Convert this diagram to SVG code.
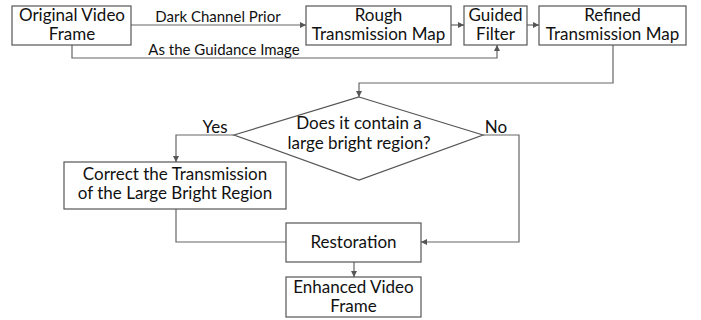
<svg xmlns="http://www.w3.org/2000/svg" width="701" height="320" viewBox="0 0 701 320">
<style>
.box{fill:#fff;stroke:#555;stroke-width:1.2}
.t{font-family:Lato,"Open Sans",sans-serif;font-size:17px;fill:#111;text-anchor:middle}
.l{font-family:Lato,"Open Sans",sans-serif;font-size:15px;fill:#111;text-anchor:middle}
.c{fill:none;stroke:#666;stroke-width:1.2}
</style>
<defs>
<marker id="ah" markerWidth="6" markerHeight="6" refX="6" refY="3" orient="auto" markerUnits="userSpaceOnUse">
<path d="M0,0 L6,3 L0,6 Z" fill="#555"/>
</marker>
</defs>
<rect width="701" height="320" fill="#fff"/>
<g id="connectors">
<path class="c" d="M131,25 H306" marker-end="url(#ah)"/>
<path class="c" d="M451,25 H464" marker-end="url(#ah)"/>
<path class="c" d="M527,25 H539" marker-end="url(#ah)"/>
<path class="c" d="M72,45 V58 H497 V45" marker-end="url(#ah)"/>
<path class="c" d="M613,45 V83 H359 V97" marker-end="url(#ah)"/>
<path class="c" d="M234,135 H176 V162" marker-end="url(#ah)"/>
<path class="c" d="M483,135 H519 V242 H421" marker-end="url(#ah)"/>
<path class="c" d="M176,209 V242 H286"/>
<path class="c" d="M354,262 V277" marker-end="url(#ah)"/>
<text class="l" x="218" y="22">Dark Channel Prior</text>
<text class="l" x="224" y="55">As the Guidance Image</text>
<text class="t" x="215" y="133">Yes</text>
<text class="t" x="496" y="133">No</text>
</g>
<g id="original"><rect class="box" x="12" y="6" width="119" height="39"/><text class="t" x="72" y="21">Original Video</text><text class="t" x="72" y="40">Frame</text></g>
<g id="rough"><rect class="box" x="306" y="6" width="145" height="39"/><text class="t" x="378.5" y="21">Rough</text><text class="t" x="378.5" y="40">Transmission Map</text></g>
<g id="guided"><rect class="box" x="464" y="6" width="63" height="39"/><text class="t" x="495.5" y="21">Guided</text><text class="t" x="495.5" y="40">Filter</text></g>
<g id="refined"><rect class="box" x="539" y="6" width="147" height="39"/><text class="t" x="612.5" y="21">Refined</text><text class="t" x="612.5" y="40">Transmission Map</text></g>
<g id="decision"><path class="box" d="M359,97 L483,135 L359,180 L234,135 Z"/><text class="t" x="359" y="129">Does it contain a</text><text class="t" x="359" y="149">large bright region?</text></g>
<g id="correct"><rect class="box" x="64" y="162" width="222" height="47"/><text class="t" x="175" y="180">Correct the Transmission</text><text class="t" x="175" y="199">of the Large Bright Region</text></g>
<g id="restoration"><rect class="box" x="286" y="223" width="135" height="39"/><text class="t" x="353.5" y="248">Restoration</text></g>
<g id="enhanced"><rect class="box" x="286" y="277" width="135" height="40"/><text class="t" x="353.5" y="293">Enhanced Video</text><text class="t" x="353.5" y="312">Frame</text></g>
</svg>
